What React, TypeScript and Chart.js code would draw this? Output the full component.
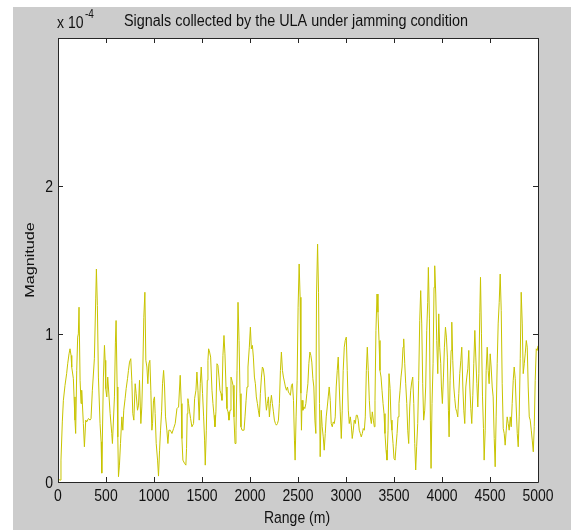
import React, { useEffect, useRef } from 'react';
import { Chart, registerables } from 'chart.js';

Chart.register(...registerables);

const TITLE = 'Signals collected by the ULA under jamming condition';
const X_LABEL = 'Range (m)';
const Y_LABEL = 'Magnitude';
const Y_EXP_BASE = 'x 10';
const Y_EXP_POW = '-4';

const X_TICKS = [0, 500, 1000, 1500, 2000, 2500, 3000, 3500, 4000, 4500, 5000];
const Y_TICKS = [0, 1, 2];
const X_MIN = 0;
const X_MAX = 5000;
const Y_MIN = 0;
const Y_MAX = 3;

// Range (m)
const RANGES = [
  0, 21, 31, 45, 56, 73, 90, 101, 115, 125, 136, 143, 160, 167, 177, 184, 195, 205, 212, 219,
  230, 240, 247, 264, 275, 289, 299, 317, 334, 344, 358, 379, 393, 400, 410, 421, 438, 449, 456, 473,
  484, 491, 497, 508, 518, 525, 543, 560, 567, 588, 598, 605, 616, 623, 630, 640, 651, 665, 675, 685,
  699, 710, 724, 734, 745, 758, 769, 779, 790, 804, 814, 828, 839, 849, 863, 873, 884, 894, 905, 915,
  926, 936, 946, 957, 967, 978, 985, 995, 1005, 1012, 1023, 1037, 1047, 1058, 1068, 1079, 1089, 1100, 1110, 1120,
  1134, 1145, 1155, 1169, 1187, 1204, 1221, 1239, 1256,
  1273, 1284, 1291, 1301, 1318, 1332, 1339, 1346, 1353, 1360, 1371, 1381, 1395, 1412, 1423, 1437, 1447, 1458, 1471, 1482,
  1492, 1506, 1517, 1527, 1534, 1545, 1555, 1562, 1569, 1579, 1590, 1604, 1614, 1625, 1635, 1645, 1656, 1666, 1677, 1687,
  1698, 1708, 1718, 1729, 1739, 1750, 1760, 1771, 1781, 1792, 1802, 1812, 1823, 1833, 1844, 1854, 1865, 1875, 1886, 1896,
  1906, 1917, 1927, 1938, 1948, 1959, 1969, 1979, 1993, 2004, 2014, 2025, 2035, 2046, 2056, 2066, 2077, 2087, 2098, 2108,
  2119, 2129, 2139, 2150, 2160, 2171, 2181, 2192, 2202, 2213, 2223, 2233, 2244, 2254, 2265, 2275, 2286, 2296, 2306, 2317,
  2327, 2338, 2348, 2359, 2369, 2380, 2390, 2400, 2411, 2421, 2432, 2442, 2453, 2463, 2470, 2480, 2491, 2501, 2512, 2522,
  2530, 2536, 2542, 2551, 2561, 2571, 2582, 2592, 2603, 2613, 2624, 2634, 2644, 2655, 2665, 2676, 2686, 2693, 2704, 2714,
  2724, 2731, 2742, 2752, 2763, 2773, 2784, 2794, 2805, 2815, 2825, 2836, 2846, 2857, 2867, 2878, 2888, 2898, 2909, 2919,
  2930, 2940, 2951, 2961, 2971, 2982, 2992, 3003, 3013, 3024, 3034, 3045, 3055, 3065, 3076, 3086, 3097, 3107, 3118, 3128,
  3138, 3149, 3159, 3170, 3180, 3191, 3201, 3212, 3222, 3232, 3243, 3253, 3264, 3274, 3285, 3295, 3302, 3312, 3323, 3333,
  3344, 3354, 3365, 3375, 3386, 3396, 3406, 3417, 3427, 3438, 3448, 3459, 3469, 3479, 3490, 3500, 3511, 3521, 3532, 3542,
  3552, 3563, 3573, 3584, 3594, 3601, 3612, 3622, 3633, 3643, 3653, 3664, 3674, 3685, 3695, 3706, 3716, 3726,
  3736, 3747, 3757, 3768, 3778, 3789, 3799, 3809, 3820, 3830, 3841, 3851, 3858, 3869, 3879, 3886, 3896, 3907, 3917, 3924,
  3935, 3945, 3956, 3966, 3976, 3987, 3994, 4004, 4015, 4025, 4036, 4046, 4056, 4067, 4074, 4084, 4095, 4102, 4112, 4123,
  4133, 4143, 4154, 4164, 4175, 4185, 4196, 4206, 4217, 4227, 4237, 4248, 4258, 4269, 4279, 4290, 4300, 4310, 4321, 4331,
  4342, 4352, 4363, 4373, 4384, 4394, 4401, 4411, 4422, 4432, 4439, 4450, 4460, 4471, 4481, 4491, 4502, 4512, 4523, 4533,
  4544, 4554, 4564, 4575, 4585, 4596, 4606, 4617, 4627, 4638, 4648, 4658, 4669, 4679, 4690, 4700, 4711, 4721, 4731, 4742,
  4752, 4763, 4773, 4784, 4794, 4804, 4815, 4825, 4836, 4846, 4857, 4867, 4878, 4888, 4898, 4909, 4919, 4930, 4940, 4951,
  4961, 4971, 4982, 4992, 5000,
];

// Magnitude (x 10^-4)
const MAGS = [
  0.02, 0.013, 0.148, 0.406, 0.552, 0.653, 0.732, 0.799, 0.866, 0.900, 0.855, 0.777, 0.698, 0.575, 0.418, 0.328, 0.754, 0.979, 1.001, 1.181,
  0.687, 0.530, 0.620, 0.395, 0.238, 0.418, 0.406, 0.429, 0.418, 0.429, 0.620, 0.833, 1.237, 1.439, 1.192, 0.709, 0.395, 0.272, 0.060, 0.709,
  0.923, 0.822, 0.631, 0.575, 0.709, 0.642, 0.462, 0.328, 0.260, 0.575, 0.945, 1.091, 0.642, 0.305, 0.036, 0.114, 0.260, 0.440, 0.350, 0.485,
  0.563, 0.631, 0.698, 0.754, 0.810, 0.833, 0.687, 0.462, 0.418, 0.664, 0.597, 0.485, 0.519, 0.687, 0.395, 0.507, 0.777, 1.113, 1.282, 0.822,
  0.777, 0.664, 0.799, 0.822, 0.620, 0.350, 0.395, 0.552, 0.575, 0.462, 0.260, 0.148, 0.040, 0.215, 0.350, 0.474, 0.664, 0.754, 0.642, 0.440,
  0.350, 0.260, 0.350, 0.350, 0.328, 0.361, 0.395, 0.496, 0.507,
  0.721, 0.530, 0.294, 0.148, 0.126, 0.114, 0.227, 0.462, 0.563, 0.530, 0.474, 0.429, 0.373, 0.395, 0.563, 0.620, 0.743, 0.620, 0.418, 0.664,
  0.777, 0.597, 0.440, 0.283, 0.114, 0.350, 0.687, 0.822, 0.900, 0.878, 0.844, 0.620, 0.530, 0.451, 0.373, 0.474, 0.799, 0.788, 0.709, 0.620,
  0.597, 0.552, 0.855, 0.990, 0.866, 0.642, 0.496, 0.474, 0.418, 0.485, 0.709, 0.687, 0.653, 0.440, 0.260, 0.350, 0.754, 1.214, 0.956, 0.597,
  0.373, 0.350, 0.350, 0.350, 0.440, 0.552, 0.642, 0.777, 0.911, 1.046, 0.900, 0.923, 0.844, 0.709, 0.664, 0.575, 0.530, 0.485, 0.440, 0.597,
  0.709, 0.777, 0.765, 0.709, 0.575, 0.485, 0.530, 0.575, 0.440, 0.530, 0.586, 0.530, 0.474, 0.418, 0.395, 0.384, 0.395, 0.418, 0.530, 0.754,
  0.878, 0.754, 0.709, 0.676, 0.642, 0.620, 0.642, 0.608, 0.597, 0.586, 0.653, 0.664, 0.552, 0.283, 0.148, 0.440, 0.687, 1.181, 1.473, 1.248,
  0.600, 0.350, 0.552, 0.485, 0.507, 0.496, 0.530, 0.597, 0.664, 0.799, 0.878, 0.855, 0.810, 0.698, 0.642, 0.418, 0.328, 1.270, 1.607, 1.282,
  0.530, 0.171, 0.485, 0.373, 0.305, 0.215, 0.328, 0.440, 0.507, 0.575, 0.642, 0.552, 0.395, 0.373, 0.406, 0.395, 0.440, 0.642, 0.754, 0.844,
  0.642, 0.474, 0.294, 0.485, 0.754, 0.911, 0.956, 0.979, 0.754, 0.485, 0.395, 0.440, 0.384, 0.294, 0.350, 0.418, 0.395, 0.451, 0.451, 0.418,
  0.350, 0.328, 0.305, 0.328, 0.361, 0.350, 0.440, 0.754, 0.911, 0.754, 0.552, 0.440, 0.395, 0.474, 0.418, 0.373, 0.552, 1.024, 1.270, 1.147,
  0.956, 0.754, 0.709, 0.620, 0.530, 0.462, 0.328, 0.215, 0.148, 0.350, 0.732, 0.631, 0.418, 0.350, 0.260, 0.159, 0.148, 0.238, 0.328, 0.440,
  0.530, 0.620, 0.709, 0.777, 0.911, 0.967, 0.799, 0.664, 0.530, 0.350, 0.260, 0.507, 0.620, 0.676, 0.709, 0.530, 0.260, 0.081,
  0.238, 0.395, 0.687, 1.091, 1.293, 1.068, 0.664, 0.418, 0.485, 0.642, 1.024, 1.214, 1.450, 1.102, 0.418, 0.092, 0.530, 0.799, 1.315, 1.461,
  1.270, 0.956, 0.732, 1.136, 0.911, 0.799, 0.642, 0.530, 0.709, 0.911, 1.046, 0.979, 0.844, 0.485, 0.305, 0.687, 0.889, 1.080, 0.822, 0.642,
  0.563, 0.496, 0.474, 0.440, 0.597, 0.732, 0.822, 0.911, 0.642, 0.485, 0.395, 0.642, 0.709, 0.765, 0.889, 0.642, 0.496, 0.395, 0.586, 0.799,
  1.024, 0.844, 0.664, 0.507, 0.732, 1.147, 1.383, 1.001, 0.575, 0.361, 0.148, 0.350, 0.754, 0.911, 0.754, 0.664, 0.866, 0.777, 0.642, 0.575,
  0.294, 0.103, 0.440, 0.799, 1.068, 1.214, 1.405, 1.158, 0.664, 0.361, 0.328, 0.249, 0.350, 0.440, 0.395, 0.350, 0.440, 0.373, 0.530, 0.687,
  0.777, 0.698, 0.507, 0.328, 0.238, 0.440, 0.833, 1.282, 1.068, 0.732, 0.799, 0.866, 0.956, 0.911, 0.642, 0.440, 0.418, 0.350, 0.283, 0.204,
  0.373, 0.687, 0.900, 0.889, 0.920,
];

const FONT_FAMILY = '"Liberation Sans", Arial, Helvetica, sans-serif';
const TEXT_STRETCH = 1.2;
const GRAY = '#cccccc';
const LINE_COLOR = 'rgb(200,196,0)';

function drawText(
  ctx: CanvasRenderingContext2D,
  text: string,
  x: number,
  y: number,
  size: number,
  align: CanvasTextAlign,
  rotate = false
) {
  ctx.save();
  ctx.font = `${size}px ${FONT_FAMILY}`;
  ctx.fillStyle = '#111111';
  ctx.textAlign = align;
  ctx.textBaseline = rotate ? 'middle' : 'alphabetic';
  ctx.translate(x, y);
  if (rotate) {
    ctx.rotate(-Math.PI / 2);
    ctx.scale(TEXT_STRETCH, 1);
  } else {
    ctx.scale(1, TEXT_STRETCH);
  }
  ctx.fillText(text, 0, 0);
  ctx.restore();
}

const matlabFrame = {
  id: 'matlabFrame',
  beforeDraw(chart: any) {
    const { ctx, chartArea } = chart;
    const W = chart.width;
    const H = chart.height;
    ctx.save();
    ctx.fillStyle = '#ffffff';
    ctx.fillRect(0, 0, W, H);
    ctx.fillStyle = GRAY;
    ctx.fillRect(13, 7, W - 13, H - 7);
    ctx.fillStyle = '#ffffff';
    ctx.fillRect(chartArea.left, chartArea.top, chartArea.right - chartArea.left, chartArea.bottom - chartArea.top);
    ctx.restore();
  },
  afterDraw(chart: any) {
    const { ctx, chartArea } = chart;
    const xs = chart.scales.x;
    const ys = chart.scales.y;
    const { left, right, top, bottom } = chartArea;
    ctx.save();
    ctx.strokeStyle = '#262626';
    ctx.lineWidth = 1;
    ctx.beginPath();
    ctx.rect(Math.round(left) + 0.5, Math.round(top) + 0.5, Math.round(right - left), Math.round(bottom - top));
    ctx.stroke();
    const T = 5;
    ctx.beginPath();
    X_TICKS.forEach((v) => {
      const px = Math.round(xs.getPixelForValue(v)) + 0.5;
      ctx.moveTo(px, bottom);
      ctx.lineTo(px, bottom - T);
      ctx.moveTo(px, top);
      ctx.lineTo(px, top + T);
    });
    Y_TICKS.forEach((v) => {
      const py = Math.round(ys.getPixelForValue(v)) + 0.5;
      ctx.moveTo(left, py);
      ctx.lineTo(left + T, py);
      ctx.moveTo(right, py);
      ctx.lineTo(right - T, py);
    });
    ctx.stroke();
    ctx.restore();

    X_TICKS.forEach((v) => {
      drawText(ctx, String(v), xs.getPixelForValue(v), bottom + 19, 14, 'center');
    });
    Y_TICKS.forEach((v) => {
      drawText(ctx, String(v), left - 5, ys.getPixelForValue(v) + 6, 14, 'right');
    });

    const cx = (left + right) / 2;
    drawText(ctx, TITLE, cx - 2, 26, 14.4, 'center');
    drawText(ctx, Y_EXP_BASE, left - 1, 28, 14, 'left');
    drawText(ctx, Y_EXP_POW, left + 27, 18, 10, 'left');
    drawText(ctx, X_LABEL, cx - 1, 523, 14, 'center');
    drawText(ctx, Y_LABEL, 30, (top + bottom) / 2, 13.5, 'center', true);
  },
};

export default function App() {
  const canvasRef = useRef<HTMLCanvasElement | null>(null);

  useEffect(() => {
    if (!canvasRef.current) return;
    const points = RANGES.map((x, i) => ({ x, y: MAGS[i] }));
    const chart = new Chart(canvasRef.current, {
      type: 'line',
      data: {
        datasets: [
          {
            label: 'signal',
            data: points,
            borderColor: LINE_COLOR,
            backgroundColor: LINE_COLOR,
            borderWidth: 1,
            pointRadius: 0,
            tension: 0,
            fill: false,
          },
        ],
      },
      options: {
        responsive: false,
        animation: false,
        devicePixelRatio: 1,
        layout: { padding: { left: 58, top: 38, right: 33, bottom: 48 } },
        plugins: {
          legend: { display: false },
          tooltip: { enabled: false },
          title: { display: false },
        },
        scales: {
          x: { type: 'linear', min: X_MIN, max: X_MAX, display: false },
          y: { type: 'linear', min: Y_MIN, max: Y_MAX, display: false },
        },
      },
      plugins: [matlabFrame],
    });
    return () => chart.destroy();
  }, []);

  return (
    <div style={{ position: 'fixed', left: 0, top: 0, width: 571, height: 530 }}>
      <canvas ref={canvasRef} width={571} height={530} style={{ width: 571, height: 530, display: 'block' }} />
    </div>
  );
}
